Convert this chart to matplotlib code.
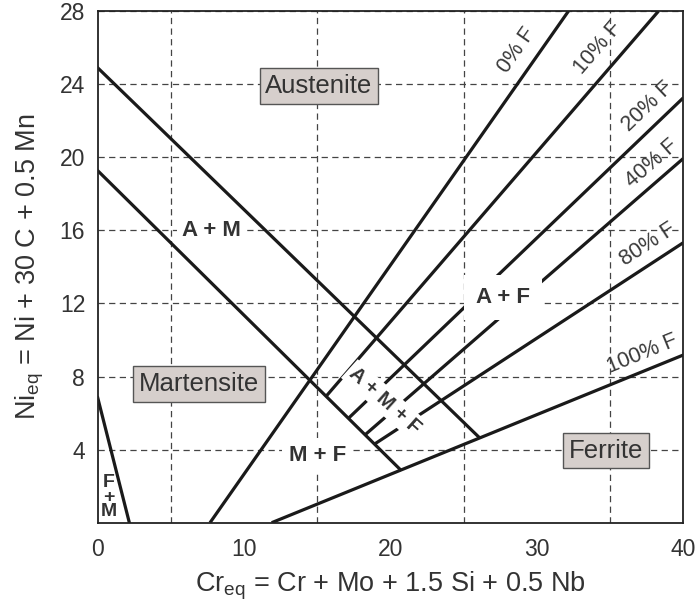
import numpy as np
import matplotlib
matplotlib.use("Agg")
import matplotlib.pyplot as plt

plt.rcParams["font.family"] = ["Liberation Sans", "DejaVu Sans"]
plt.rcParams["mathtext.fontset"] = "custom"
plt.rcParams["mathtext.rm"] = "Liberation Sans"
plt.rcParams["mathtext.default"] = "regular"

# Boundary lines of the diagram (Cr_eq, Ni_eq end points)
austenite_line_x = [0, 26.0]
austenite_line_y = [24.9, 4.71]
ms_line_x = [0, 20.65]
ms_line_y = [19.27, 2.92]
fm_line_x = [0, 2.16]
fm_line_y = [6.84, 0]

# Ferrite iso-lines
ferrite_labels = ["0% F", "10% F", "20% F", "40% F", "80% F", "100% F"]
ferrite_x0 = [7.67, 15.6, 17.12, 18.26, 18.9, 11.88]
ferrite_y0 = [0, 6.92, 5.71, 4.81, 4.30, 0]
ferrite_x1 = [32.15, 38.3, 40, 40, 40, 40]
ferrite_y1 = [28, 28, 23.26, 19.94, 15.33, 9.18]
ferrite_lab_x = [28.62, 34.2, 37.54, 37.88, 37.6, 37.2]
ferrite_lab_y = [25.87, 25.97, 22.77, 19.67, 15.25, 9.23]

# Phase labels
phase_names = ["Austenite", "Martensite", "Ferrite"]
phase_x = [15.1, 6.9, 34.7]
phase_y = [23.9, 7.6, 3.95]

mix_names = ["A + M", "M + F", "A + F"]
mix_x = [7.74, 15.0, 27.7]
mix_y = [15.97, 3.68, 12.34]

fig = plt.figure(figsize=(6.99, 6.01), dpi=100)
ax = fig.add_axes([0.1398, 0.1303, 0.8378, 0.8511])
ax.set_xlim(0, 40)
ax.set_ylim(0, 28)

ax.set_xticks([0, 10, 20, 30, 40])
ax.set_xticks(np.arange(5, 40, 5), minor=True)
ax.set_yticks([4, 8, 12, 16, 20, 24, 28])
ax.tick_params(which="both", length=0, labelsize=16.5, colors="#333333", pad=11)
ax.tick_params(axis="y", pad=9)
ax.grid(which="minor", axis="x", color="#444444", linestyle=(0, (5, 3.5)), linewidth=0.9)
ax.grid(which="major", axis="y", color="#444444", linestyle=(0, (5, 3.5)), linewidth=0.9)
for s in ax.spines.values():
    s.set_linewidth(1.3)
    s.set_color("#222222")

lw = 2.3
lc = "#1a1a1a"
ax.plot(austenite_line_x, austenite_line_y, color=lc, lw=lw)
ax.plot(ms_line_x, ms_line_y, color=lc, lw=lw)
ax.plot(fm_line_x, fm_line_y, color=lc, lw=lw)

for lab, x0, y0, x1, y1, tx, ty in zip(ferrite_labels, ferrite_x0, ferrite_y0,
                                       ferrite_x1, ferrite_y1, ferrite_lab_x, ferrite_lab_y):
    ax.plot([x0, x1], [y0, y1], color=lc, lw=lw, solid_capstyle="butt")
    ang = np.degrees(np.arctan2(y1 - y0, x1 - x0))
    ax.text(tx, ty, lab, rotation=ang, transform_rotates_text=True,
            rotation_mode="anchor", ha="center", va="center",
            fontsize=15.5, color="#3a3a3a")

for name, x, y in zip(phase_names, phase_x, phase_y):
    ax.text(x, y, name, ha="center", va="center", fontsize=18.5, color="#333333",
            bbox=dict(boxstyle="square,pad=0.22", fc="#d6cfcc", ec="#555555", lw=1.0),
            zorder=5)

pads = [0.2, 0.3, 0.55]
for name, x, y, p in zip(mix_names, mix_x, mix_y, pads):
    ax.text(x, y, name, ha="center", va="center", fontsize=16, fontweight="bold",
            color="#333333",
            bbox=dict(boxstyle=f"square,pad={p}", fc="white", ec="none"), zorder=5)

# A + M + F label, rotated along the boundary lines
ax.text(19.6, 6.7, "A + M + F", rotation=-42, rotation_mode="anchor",
        ha="center", va="center", fontsize=14.5, fontweight="bold", color="#333333",
        bbox=dict(boxstyle="square,pad=0.15", fc="white", ec="none"), zorder=5)

ax.text(0.75, 1.4, "F\n+\nM", ha="center", va="center", fontsize=14,
        fontweight="bold", color="#333333", linespacing=0.8, zorder=5)

ax.set_xlabel("Cr$_{eq}$ = Cr + Mo + 1.5 Si + 0.5 Nb", fontsize=19.5, color="#333333",
              labelpad=6)
ax.set_ylabel("Ni$_{eq}$ = Ni + 30 C + 0.5 Mn", fontsize=19.5, color="#333333",
              labelpad=10)

fig.savefig("out.png", dpi=100)
